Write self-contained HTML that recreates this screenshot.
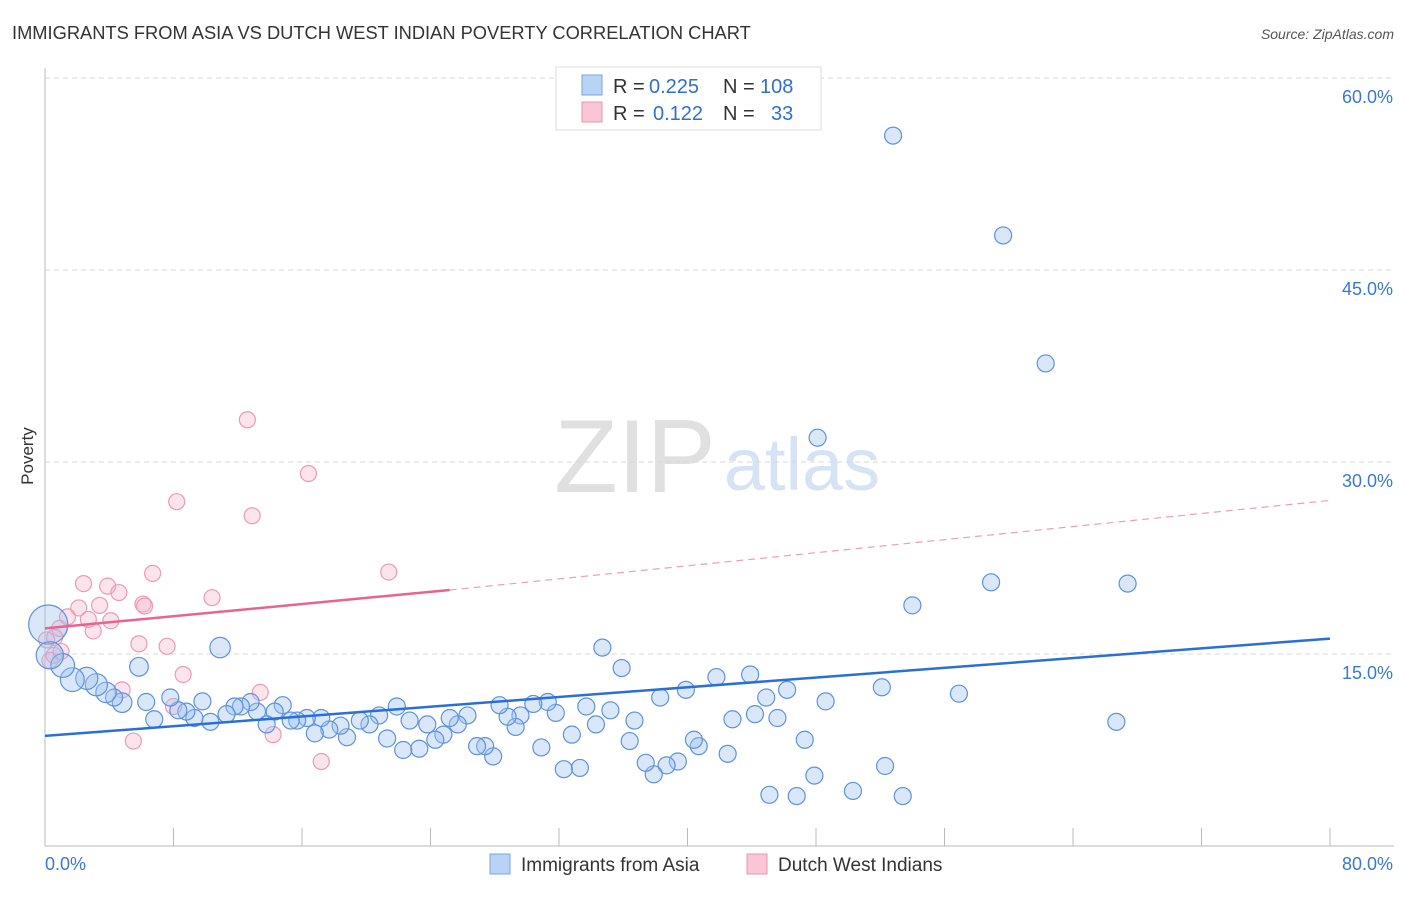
<!DOCTYPE html>
<html><head><meta charset="utf-8"><style>
body{margin:0;background:#fff;font-family:"Liberation Sans",sans-serif;}
svg text{font-family:"Liberation Sans",sans-serif;}
</style></head><body>
<svg width="1406" height="892" viewBox="0 0 1406 892" xmlns="http://www.w3.org/2000/svg">
<text x="12" y="39" font-size="18.3" fill="#333">IMMIGRANTS FROM ASIA VS DUTCH WEST INDIAN POVERTY CORRELATION CHART</text>
<text x="1394" y="39" font-size="14" fill="#555" text-anchor="end" font-style="italic">Source: ZipAtlas.com</text>
<g>
<text x="635" y="492" font-size="104" fill="#e0e0e0" font-family="Liberation Serif" text-anchor="middle">ZIP</text>
<text x="802" y="490" font-size="74" fill="#d6e3f5" text-anchor="middle">atlas</text>
</g>
<g id="grid"></g>
<g id="axes"></g>
<g id="pts"></g>
<g id="lines"></g>
<text x="33" y="456" font-size="17" fill="#333" transform="rotate(-90 33 456)" text-anchor="middle">Poverty</text>
<g>
<rect x="556" y="67" width="265" height="63" fill="#fff" stroke="#ddd"/>
<rect x="582" y="75" width="20" height="20" fill="#b9d3f5" stroke="#7aa6e6"/>
<rect x="582" y="102" width="20" height="20" fill="#f9c6d6" stroke="#eb94b0"/>
<text y="93" font-size="20" fill="#333"><tspan x="613">R =</tspan><tspan x="649" fill="#2f6fd0">0.225</tspan><tspan x="723">N =</tspan><tspan x="760" fill="#2f6fd0">108</tspan></text>
<text y="120" font-size="20" fill="#333"><tspan x="613">R =</tspan><tspan x="653" fill="#2f6fd0">0.122</tspan><tspan x="723">N =</tspan><tspan x="771" fill="#2f6fd0">33</tspan></text>
</g>
<g>
<rect x="490" y="854" width="20" height="20" fill="#b9d3f5" stroke="#7aa6e6"/>
<text x="521" y="871" font-size="19" fill="#333">Immigrants from Asia</text>
<rect x="747" y="854" width="20" height="20" fill="#f9c6d6" stroke="#eb94b0"/>
<text x="778" y="871" font-size="19" fill="#333">Dutch West Indians</text>
</g>
</svg>
<script>
const xTicks=[0,8,16,24,32,40,48,56,64,72,80];
const yTicks=[15,30,45,60];
const yTickLabels=["15.0%","30.0%","45.0%","60.0%"];
const asiaX=[52.8,59.65,62.3,48.1,58.9,67.4,54.0,10.9,34.7,5.85,35.9,43.9,41.8,52.1,39.9,46.2,56.9,38.3,44.9,48.6,66.7,44.2,45.6,42.8,47.3,52.3,45.1,46.8,47.9,50.3,53.4,42.5,40.7,40.4,39.4,38.7,37.9,37.4,36.4,36.7,35.2,34.3,33.7,33.3,32.3,32.8,30.9,31.8,31.3,30.4,29.6,29.3,28.8,28.3,27.9,27.4,26.9,26.3,25.7,25.2,24.8,24.3,23.8,23.3,22.7,22.3,21.3,21.9,20.8,20.2,19.6,18.8,18.4,17.7,17.2,16.8,16.3,15.7,15.3,14.8,14.3,13.8,13.2,12.8,12.2,11.8,11.3,10.3,9.8,9.3,8.8,8.3,7.8,6.8,6.3,4.8,4.3,3.8,3.2,2.6,1.7,1.1,0.2,0.3];
const asiaY=[55.5,47.7,37.7,31.9,20.6,20.5,18.8,15.5,15.5,14.0,13.9,13.4,13.2,12.4,12.2,12.2,11.9,11.6,11.6,11.3,9.7,10.3,10.0,9.9,8.3,6.25,4.0,3.9,5.5,4.3,3.9,7.2,7.8,8.3,6.6,6.3,5.6,6.5,8.2,9.8,10.6,9.5,10.9,6.1,6.0,8.7,7.7,10.4,11.25,11.1,10.2,9.3,10.1,11.0,7.0,7.8,7.8,10.2,9.5,10.0,8.7,8.3,9.5,7.6,9.8,7.5,8.4,10.9,10.2,9.5,9.8,8.5,9.4,9.1,10.0,8.8,10.0,9.8,9.8,11.0,10.5,9.5,10.5,11.25,10.9,10.9,10.3,9.7,11.3,10.0,10.5,10.6,11.6,9.9,11.25,11.2,11.6,12.0,12.6,13.1,13.0,14.1,17.3,14.9];
const asiaSize=[1,1,1,1,1,1,1,1.2,1,1.1,1,1,1,1,1,1,1,1,1,1,1,1,1,1,1,1,1,1,1,1,1,1,1,1,1,1,1,1,1,1,1,1,1,1,1,1,1,1,1,1,1,1,1,1,1,1,1,1,1,1,1,1,1,1,1,1,1,1,1,1,1,1,1,1,1,1,1,1,1,1,1,1,1,1,1,1,1,1,1,1,1,1,1,1,1,1.15,1,1.2,1.3,1.3,1.4,1.4,2.3,1.6];
const dutchX=[12.6,16.4,8.2,12.9,21.4,6.7,2.4,3.9,4.6,10.4,6.1,6.2,3.4,2.1,1.4,2.7,4.1,3.0,0.9,0.6,5.85,7.6,0.56,8.6,4.8,13.4,8.0,14.2,5.5,17.2,0.1,0.3,1.0];
const dutchY=[33.3,29.1,26.9,25.8,21.4,21.3,20.5,20.3,19.8,19.4,18.9,18.75,18.8,18.6,17.9,17.7,17.6,16.8,17.0,16.3,15.8,15.6,14.9,13.4,12.2,12.0,10.9,8.7,8.2,6.6,16.1,14.5,15.2];
const asiaTrend=[[0,8.6],[80,16.2]];
const dutchTrend=[[0,17.0],[25.2,20.0],[80,27.0]];
const NS="http://www.w3.org/2000/svg";
const X0=45,X1=1330,Y0=846,YS=192/15;
function sx(v){return X0+(X1-X0)*v/80;}
function sy(v){return Y0-v*YS;}
function mk(tag,attrs,parent){const e=document.createElementNS(NS,tag);for(const k in attrs)e.setAttribute(k,attrs[k]);parent.appendChild(e);return e;}
const grid=document.getElementById('grid'),axes=document.getElementById('axes');
yTicks.forEach((t,i)=>{
 const g=mk('line',{x1:45,x2:1394,y1:sy(t),y2:sy(t),stroke:'#d8d8d8','stroke-dasharray':'5,4'},grid);
 
 
 const tx=mk('text',{x:1393,y:sy(t)+25,'font-size':18,fill:'#3a78d4','text-anchor':'end'},axes);
 tx.textContent=yTickLabels[i];
 
 
});
mk('line',{x1:45,x2:45,y1:68,y2:846,stroke:'#bbb'},axes);
mk('line',{x1:45,x2:1394,y1:846,y2:846,stroke:'#bbb'},axes);
xTicks.forEach(t=>{const l=mk('line',{x1:sx(t),x2:sx(t),y1:828,y2:846,stroke:'#bbb'},axes);
 
 });
let a=mk('text',{x:45,y:870,'font-size':18,fill:'#3a78d4'},axes);a.textContent='0.0%';

a=mk('text',{x:1393,y:870,'font-size':18,fill:'#3a78d4','text-anchor':'end'},axes);a.textContent='80.0%';

const pts=document.getElementById('pts');
dutchX.forEach((v,i)=>{const c=mk('circle',{cx:sx(v),cy:sy(dutchY[i]),r:8,fill:'rgba(246,170,195,0.32)',stroke:'#ec9ab5','stroke-width':1.2},pts);
 
 });
asiaX.forEach((v,i)=>{const c=mk('circle',{cx:sx(v),cy:sy(asiaY[i]),r:8.5*asiaSize[i],fill:'rgba(160,195,240,0.4)',stroke:'#5d93dd','stroke-width':1.2},pts);
 
 });
const lines=document.getElementById('lines');
let L=mk('line',{x1:sx(asiaTrend[0][0]),y1:sy(asiaTrend[0][1]),x2:sx(asiaTrend[1][0]),y2:sy(asiaTrend[1][1]),stroke:'#2a6fd6','stroke-width':2.5},lines);


L=mk('line',{x1:sx(dutchTrend[0][0]),y1:sy(dutchTrend[0][1]),x2:sx(dutchTrend[1][0]),y2:sy(dutchTrend[1][1]),stroke:'#e8648f','stroke-width':2.5},lines);


L=mk('line',{x1:sx(dutchTrend[1][0]),y1:sy(dutchTrend[1][1]),x2:sx(dutchTrend[2][0]),y2:sy(dutchTrend[2][1]),stroke:'#e8a0b8','stroke-width':1.2,'stroke-dasharray':'7,5'},lines);


</script>
</body></html>
